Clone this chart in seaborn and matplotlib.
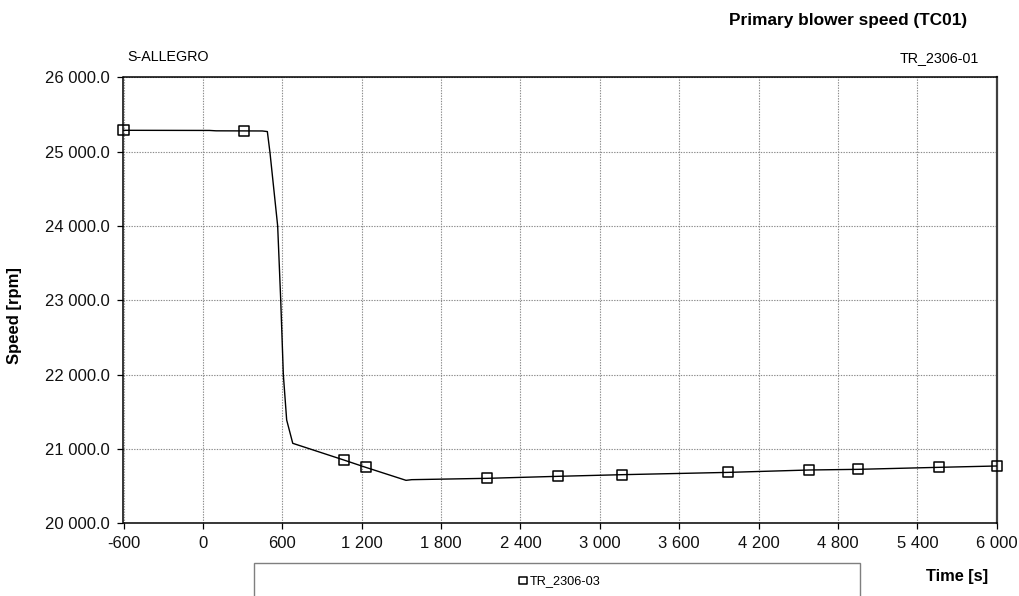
import matplotlib
matplotlib.use("Agg")
import matplotlib.pyplot as plt
import matplotlib.ticker as mticker
from matplotlib.patches import Rectangle
import seaborn as sns
import pandas as pd

# ---- data ----
line_time = [-600, 50, 100, 449, 487, 507, 565, 588, 608, 633, 679, 1064, 1230,
             1535, 1578, 2149, 2683, 3167, 3970, 4580, 4953, 5563, 6000]
line_speed = [25287, 25285, 25280, 25278, 25270, 24985, 24000, 23004, 21995, 21390,
              21076, 20852, 20753, 20578, 20587, 20605, 20632, 20654, 20685, 20717,
              20726, 20753, 20771]

marker_time = [-600, 313, 1064, 1230, 2149, 2683, 3167, 3970, 4580, 4953, 5563, 6000]
marker_speed = [25287, 25278, 20852, 20753, 20605, 20632, 20654, 20685, 20717,
                20726, 20753, 20771]

series_name = "TR_2306-03"
x_ticks = [-600, 0, 600, 1200, 1800, 2400, 3000, 3600, 4200, 4800, 5400, 6000]
y_ticks = [20000, 21000, 22000, 23000, 24000, 25000, 26000]

title = "Primary blower speed (TC01)"
left_note = "S-ALLEGRO"
right_note = "TR_2306-01"
x_label = "Time [s]"
y_label = "Speed [rpm]"

# ---- plotting ----
sns.set_theme(style="white")
plt.rcParams["font.family"] = ["Liberation Sans", "DejaVu Sans"]
plt.rcParams["text.color"] = "black"
plt.rcParams["axes.labelcolor"] = "black"

W, H = 1020, 596
fig = plt.figure(figsize=(W / 100, H / 100), dpi=100)
ax = fig.add_axes([123.5 / W, 1 - 523.3 / H, (996.9 - 123.5) / W, (523.3 - 77.3) / H])

df_line = pd.DataFrame({"t": line_time, "s": line_speed})
df_mark = pd.DataFrame({"t": marker_time, "s": marker_speed})

sns.lineplot(data=df_line, x="t", y="s", ax=ax, color="black", linewidth=1.0,
             estimator=None, sort=False, zorder=3)
sns.scatterplot(data=df_mark, x="t", y="s", ax=ax, marker="s", s=52,
                facecolor="none", edgecolor="black", linewidth=1.1,
                label=series_name, zorder=4, clip_on=False)

ax.set_xlim(-600, 6000)
ax.set_ylim(20000, 26000)
ax.set_xticks(x_ticks)
ax.set_yticks(y_ticks)
ax.xaxis.set_major_formatter(mticker.FuncFormatter(lambda v, p: f"{int(round(v)):,}".replace(",", " ")))
ax.yaxis.set_major_formatter(mticker.FuncFormatter(lambda v, p: f"{v:,.1f}".replace(",", " ")))

ax.grid(True, color="#8a8a8a", linestyle=(0, (1.2, 1.2)), linewidth=0.8)
ax.set_axisbelow(True)
for side in ["left", "bottom", "top"]:
    ax.spines[side].set_color("black")
    ax.spines[side].set_linewidth(1.1)
ax.spines["right"].set_color("#404040")
ax.spines["right"].set_linewidth(1.6)

ax.tick_params(axis="both", which="major", direction="out", length=4, width=0.9,
               color="black", labelsize=12, labelcolor="#111111")
ax.tick_params(axis="y", pad=6)
ax.tick_params(axis="x", pad=5)
ax.tick_params(left=True, bottom=True)
ax.set_xlabel("")
ax.set_ylabel("")

# texts
fig.text(967 / W, 1 - 20 / H, title, ha="right", va="center", fontsize=12.4, fontweight="bold")
fig.text(127 / W, 1 - 57 / H, left_note, ha="left", va="center", fontsize=10.3)
fig.text(979 / W, 1 - 58 / H, right_note, ha="right", va="center", fontsize=10.3)
fig.text(957 / W, 1 - 576 / H, x_label, ha="center", va="center", fontsize=11.8, fontweight="bold")
fig.text(15 / W, 1 - 316 / H, y_label, ha="center", va="center", rotation=90,
         fontsize=12, fontweight="bold")

# legend box (extends below the figure edge as in the reference)
fig.patches.append(Rectangle((254 / W, -0.05), (860 - 254) / W, 0.05 + (596 - 563) / H,
                             transform=fig.transFigure, facecolor="none",
                             edgecolor="#7f7f7f", linewidth=1.0, zorder=1))
leg = ax.legend(loc="center", bbox_to_anchor=(560 / W, 1 - 581 / H),
                bbox_transform=fig.transFigure, frameon=False, fontsize=9.2,
                handlelength=0.6, handletextpad=0.25, markerscale=0.75,
                borderpad=0)

fig.savefig("out.png", dpi=100)
